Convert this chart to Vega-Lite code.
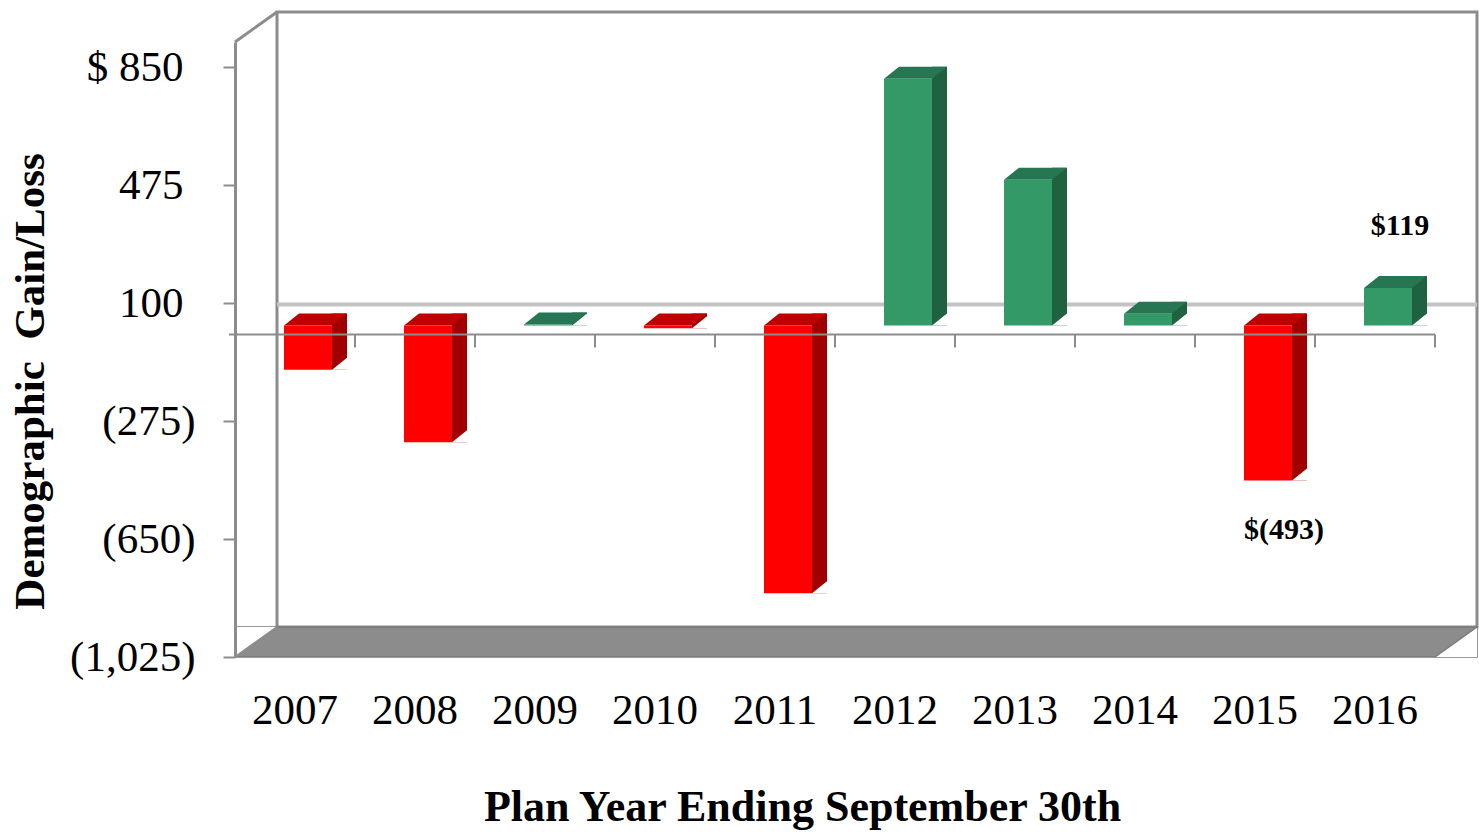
{
  "$schema": "https://vega.github.io/schema/vega-lite/v6.json",
  "width": 1200,
  "height": 615,
  "autosize": {"type": "none"},
  "padding": {"left": 235, "top": 42, "right": 44, "bottom": 179},
  "background": "white",
  "config": {
    "view": {"stroke": null},
    "font": "Liberation Serif",
    "axis": {"labelColor": "black", "titleColor": "black", "labelFont": "Liberation Serif", "titleFont": "Liberation Serif"}
  },
  "data": {
    "values": [
      {"year": "2007", "value": -141, "label": ""},
      {"year": "2008", "value": -371, "label": ""},
      {"year": "2009", "value": 3, "label": ""},
      {"year": "2010", "value": -9, "label": ""},
      {"year": "2011", "value": -851, "label": ""},
      {"year": "2012", "value": 784, "label": ""},
      {"year": "2013", "value": 463, "label": ""},
      {"year": "2014", "value": 37, "label": ""},
      {"year": "2015", "value": -493, "label": "$(493)"},
      {"year": "2016", "value": 119, "label": "$119"}
    ]
  },
  "resolve": {"scale": {"x": "independent"}},
  "layer": [
    {
      "data": {"values": [{}]},
      "mark": {"type": "rect", "fill": "white", "stroke": "#8c8c8c", "strokeWidth": 3, "xOffset": 42, "x2Offset": 42, "yOffset": -30, "y2Offset": -30},
      "encoding": {
        "x": {"datum": 0, "type": "quantitative", "scale": {"domain": [0, 10], "nice": false, "zero": false}, "axis": null},
        "x2": {"datum": 10},
        "y": {"datum": -1025, "type": "quantitative"},
        "y2": {"datum": 929.5}
      }
    },
    {
      "data": {"values": [{}]},
      "mark": {"type": "rule", "color": "#c3c3c3", "strokeWidth": 4, "xOffset": 42, "x2Offset": 42, "yOffset": -30},
      "encoding": {
        "x": {"datum": 0, "type": "quantitative", "scale": {"domain": [0, 10], "nice": false, "zero": false}, "axis": null},
        "x2": {"datum": 10},
        "y": {"datum": 0, "type": "quantitative"}
      }
    },
    {
      "data": {"values": [{}]},
      "mark": {"type": "rect", "fill": "#8c8c8c", "stroke": "#7a7a7a", "strokeWidth": 1.5, "x2Offset": 42, "y2Offset": -30},
      "encoding": {
        "x": {"datum": 0, "type": "quantitative", "scale": {"domain": [0, 10], "nice": false, "zero": false}, "axis": null},
        "x2": {"datum": 10},
        "y": {"datum": -1025, "type": "quantitative"},
        "y2": {"datum": -1025}
      }
    },
    {
      "data": {"values": [{}]},
      "mark": {"type": "point", "shape": "M -1 -0.714 L 1 -0.714 L -1 0.714 Z", "size": 1764, "filled": true, "fill": "white", "strokeWidth": 0, "opacity": 1, "xOffset": 21, "yOffset": -15},
      "encoding": {
        "x": {"datum": 0, "type": "quantitative", "scale": {"domain": [0, 10], "nice": false, "zero": false}, "axis": null},
        "y": {"datum": -1025, "type": "quantitative"}
      }
    },
    {
      "data": {"values": [{}]},
      "mark": {"type": "point", "shape": "M 1 -0.714 L 1 0.714 L -1 0.714 Z", "size": 1764, "filled": true, "fill": "white", "strokeWidth": 0, "opacity": 1, "xOffset": 21, "yOffset": -15},
      "encoding": {
        "x": {"datum": 10, "type": "quantitative", "scale": {"domain": [0, 10], "nice": false, "zero": false}, "axis": null},
        "y": {"datum": -1025, "type": "quantitative"}
      }
    },
    {
      "data": {"values": [{}]},
      "mark": {"type": "rule", "color": "#8c8c8c", "strokeWidth": 3, "x2Offset": 42, "y2Offset": -30},
      "encoding": {
        "x": {"datum": 0, "type": "quantitative", "scale": {"domain": [0, 10], "nice": false, "zero": false}, "axis": null},
        "x2": {"datum": 0},
        "y": {"datum": 929.5, "type": "quantitative"},
        "y2": {"datum": 929.5}
      }
    },
    {
      "data": {"values": [{}]},
      "mark": {"type": "rule", "color": "#8c8c8c", "strokeWidth": 2, "x2Offset": 42, "y2Offset": -30},
      "encoding": {
        "x": {"datum": 0, "type": "quantitative", "scale": {"domain": [0, 10], "nice": false, "zero": false}, "axis": null},
        "x2": {"datum": 0},
        "y": {"datum": -1025, "type": "quantitative"},
        "y2": {"datum": -1025}
      }
    },
    {
      "data": {"values": [{}]},
      "mark": {"type": "rule", "color": "#7a7a7a", "strokeWidth": 1.5, "x2Offset": 42, "y2Offset": -30},
      "encoding": {
        "x": {"datum": 10, "type": "quantitative", "scale": {"domain": [0, 10], "nice": false, "zero": false}, "axis": null},
        "x2": {"datum": 10},
        "y": {"datum": -1025, "type": "quantitative"},
        "y2": {"datum": -1025}
      }
    },
    {
      "transform": [{"filter": "datum.value > 0"}],
      "mark": {"type": "bar", "width": 15, "xOffset": 44.5, "yOffset": -21, "y2Offset": -9, "color": "#206140"},
      "encoding": {
        "x": {"field": "year", "type": "nominal", "scale": {"type": "band", "domain": ["2007","2008","2009","2010","2011","2012","2013","2014","2015","2016"], "paddingInner": 0, "paddingOuter": 0}, "axis": null},
        "y": {"field": "value", "type": "quantitative"},
        "y2": {"datum": 0}
      }
    },
    {
      "transform": [{"filter": "datum.value < 0"}],
      "mark": {"type": "bar", "width": 15, "xOffset": 44.5, "yOffset": -9, "y2Offset": -21, "color": "#a00000"},
      "encoding": {
        "x": {"field": "year", "type": "nominal", "scale": {"type": "band", "domain": ["2007","2008","2009","2010","2011","2012","2013","2014","2015","2016"], "paddingInner": 0, "paddingOuter": 0}, "axis": null},
        "y": {"field": "value", "type": "quantitative"},
        "y2": {"datum": 0}
      }
    },
    {
      "transform": [{"filter": "datum.value > 0"}],
      "mark": {"type": "point", "shape": "M -1 0.8 L 1 -0.8 L 1 0.8 Z", "size": 225, "filled": true, "fill": "white", "strokeWidth": 0, "opacity": 1, "xOffset": 44.5, "yOffset": -15},
      "encoding": {
        "x": {"field": "year", "type": "nominal", "scale": {"type": "band", "domain": ["2007","2008","2009","2010","2011","2012","2013","2014","2015","2016"], "paddingInner": 0, "paddingOuter": 0}, "axis": null},
        "y": {"datum": 0, "type": "quantitative"}
      }
    },
    {
      "transform": [{"filter": "datum.value < 0"}],
      "mark": {"type": "point", "shape": "M -1 0.8 L 1 -0.8 L 1 0.8 Z", "size": 225, "filled": true, "fill": "white", "strokeWidth": 0, "opacity": 1, "xOffset": 44.5, "yOffset": -15},
      "encoding": {
        "x": {"field": "year", "type": "nominal", "scale": {"type": "band", "domain": ["2007","2008","2009","2010","2011","2012","2013","2014","2015","2016"], "paddingInner": 0, "paddingOuter": 0}, "axis": null},
        "y": {"field": "value", "type": "quantitative"}
      }
    },
    {
      "transform": [{"filter": "datum.value > 0"}],
      "mark": {"type": "point", "shape": "M -1 0.1905 L 0.5238 0.1905 L 1 -0.1905 L -0.5238 -0.1905 Z", "size": 3969, "filled": true, "fill": "#267553", "strokeWidth": 0, "opacity": 1, "xOffset": 20.5, "yOffset": -15},
      "encoding": {
        "x": {"field": "year", "type": "nominal", "scale": {"type": "band", "domain": ["2007","2008","2009","2010","2011","2012","2013","2014","2015","2016"], "paddingInner": 0, "paddingOuter": 0}, "axis": null},
        "y": {"field": "value", "type": "quantitative"}
      }
    },
    {
      "transform": [{"filter": "datum.value < 0"}],
      "mark": {"type": "point", "shape": "M -1 0.1905 L 0.5238 0.1905 L 1 -0.1905 L -0.5238 -0.1905 Z", "size": 3969, "filled": true, "fill": "#c00000", "strokeWidth": 0, "opacity": 1, "xOffset": 20.5, "yOffset": -15},
      "encoding": {
        "x": {"field": "year", "type": "nominal", "scale": {"type": "band", "domain": ["2007","2008","2009","2010","2011","2012","2013","2014","2015","2016"], "paddingInner": 0, "paddingOuter": 0}, "axis": null},
        "y": {"datum": 0, "type": "quantitative"}
      }
    },
    {
      "mark": {"type": "bar", "width": 48, "xOffset": 13, "yOffset": -9, "y2Offset": -9},
      "encoding": {
        "x": {
          "field": "year", "type": "nominal",
          "scale": {"type": "band", "domain": ["2007","2008","2009","2010","2011","2012","2013","2014","2015","2016"], "paddingInner": 0, "paddingOuter": 0},
          "axis": {
            "title": "Plan Year Ending September 30th",
            "ticks": false, "tickSize": 0, "domain": false, "grid": false,
            "labelAngle": 0, "labelFontSize": 43, "labelPadding": 32,
            "titleFontSize": 44, "titleFontWeight": "bold",
            "titleX": 567, "titleY": 163, "titleAlign": "center", "titleBaseline": "alphabetic"
          }
        },
        "y": {
          "field": "value", "type": "quantitative",
          "scale": {"domain": [-1025, 929.5], "nice": false, "zero": false},
          "axis": {
            "values": [-1025, -650, -275, 100, 475, 850],
            "labelExpr": "datum.value == 850 ? '$ 850' : (datum.value < 0 ? '(' + format(-datum.value, ',') + ')' : format(datum.value, ','))",
            "title": "Demographic\u00a0 Gain/Loss",
            "grid": false, "zindex": 1,
            "domain": true, "domainColor": "#8c8c8c", "domainWidth": 3,
            "ticks": true, "tickColor": "#8c8c8c", "tickWidth": 2, "tickSize": 12,
            "labelFontSize": 43,
            "labelPadding": {"condition": {"test": "datum.value >= 0", "value": 40}, "value": 28},
            "labelAlign": "right", "labelBaseline": "middle",
            "titleFontSize": 43, "titleFontWeight": "bold",
            "titleAngle": -90, "titleX": -192, "titleY": 339, "titleAlign": "center", "titleBaseline": "alphabetic"
          }
        },
        "y2": {"datum": 0},
        "color": {"condition": {"test": "datum.value < 0", "value": "#ff0000"}, "value": "#339966"}
      }
    },
    {
      "data": {"values": [{}]},
      "mark": {"type": "rule", "color": "#8c8c8c", "strokeWidth": 2, "xOffset": -6},
      "encoding": {
        "x": {"datum": 0, "type": "quantitative", "scale": {"domain": [0, 10], "nice": false, "zero": false}, "axis": null},
        "x2": {"datum": 10},
        "y": {"datum": 0, "type": "quantitative"}
      }
    },
    {
      "mark": {"type": "rule", "color": "#8c8c8c", "strokeWidth": 2, "y2Offset": 13},
      "encoding": {
        "x": {"field": "year", "type": "nominal", "bandPosition": 1, "scale": {"type": "band", "domain": ["2007","2008","2009","2010","2011","2012","2013","2014","2015","2016"], "paddingInner": 0, "paddingOuter": 0}, "axis": null},
        "y": {"datum": 0, "type": "quantitative"},
        "y2": {"datum": 0}
      }
    },
    {
      "transform": [{"filter": "datum.label != '' && datum.value > 0"}],
      "mark": {"type": "text", "font": "Liberation Serif", "fontWeight": "bold", "fontSize": 30, "dx": 25, "dy": -71, "baseline": "middle", "fill": "black"},
      "encoding": {
        "x": {"field": "year", "type": "nominal", "scale": {"type": "band", "domain": ["2007","2008","2009","2010","2011","2012","2013","2014","2015","2016"], "paddingInner": 0, "paddingOuter": 0}, "axis": null},
        "y": {"field": "value", "type": "quantitative"},
        "text": {"field": "label"}
      }
    },
    {
      "transform": [{"filter": "datum.label != '' && datum.value < 0"}],
      "mark": {"type": "text", "font": "Liberation Serif", "fontWeight": "bold", "fontSize": 30, "dx": 29, "dy": 40, "baseline": "middle", "fill": "black"},
      "encoding": {
        "x": {"field": "year", "type": "nominal", "scale": {"type": "band", "domain": ["2007","2008","2009","2010","2011","2012","2013","2014","2015","2016"], "paddingInner": 0, "paddingOuter": 0}, "axis": null},
        "y": {"field": "value", "type": "quantitative"},
        "text": {"field": "label"}
      }
    }
  ]
}
